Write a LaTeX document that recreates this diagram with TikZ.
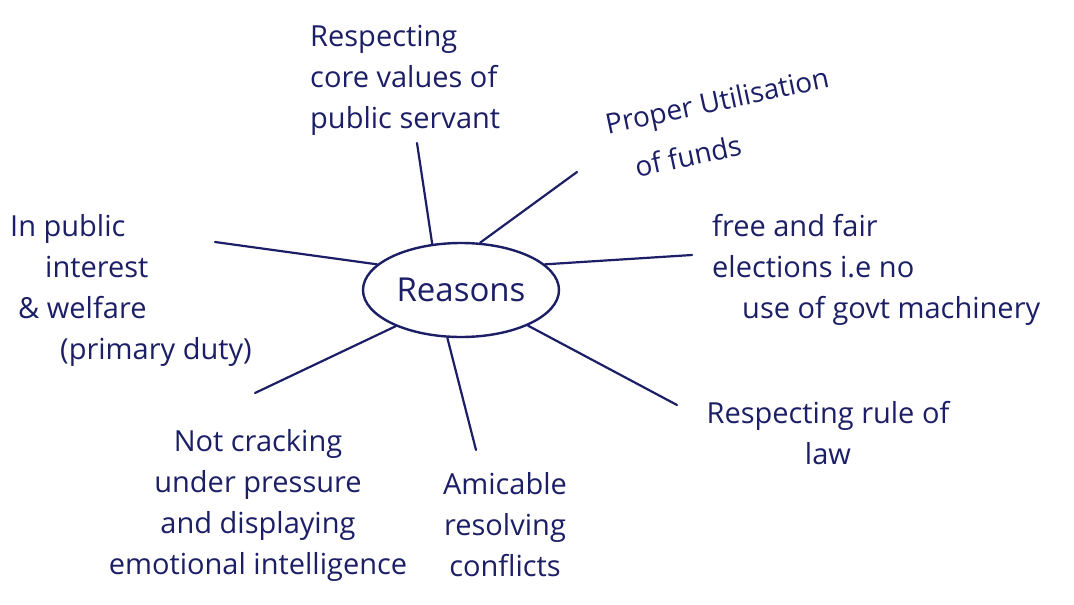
\documentclass[tikz,border=0pt]{standalone}
\usepackage{fontspec}
\setmainfont{Open Sans}
\usetikzlibrary{shapes.geometric}
\definecolor{ink}{HTML}{1C1F66}
\begin{document}
\begin{tikzpicture}[x=1pt,y=-1pt,
  lbl/.style={inner sep=0pt,text=ink,font=\fontsize{29}{41}\selectfont},
  link/.style={draw=ink,line width=2.2pt,line cap=round}]
\useasboundingbox (0,0) rectangle (1074,605);
\fill[white] (0,0) rectangle (1074,605);
\node[ellipse,draw=ink,line width=2.4pt,minimum width=196pt,minimum height=94pt,inner sep=0pt,text=ink,font=\fontsize{33}{36}\selectfont] (r) at (461,290) {Reasons};
\node[lbl,align=left,anchor=west] (t1) at (310,80) {Respecting\\core values of\\public servant};
\node[lbl,align=left,rotate=12,font=\fontsize{28}{48}\selectfont] (t2) at (722,124) {Proper Utilisation\\\hspace*{20pt}of funds};
\node[lbl,align=left,anchor=west] (t3) at (10,290) {In public\\\hspace*{35pt}interest\\\hspace*{8pt}\& welfare\\\hspace*{50pt}(primary duty)};
\node[lbl,align=left,anchor=west] (t4) at (712,270) {free and fair\\elections i.e no\\\hspace*{30pt}use of govt machinery};
\node[lbl,align=center] (t5) at (828,433) {Respecting rule of\\law};
\node[lbl,align=center] (t6) at (258,505) {Not cracking\\under pressure\\and displaying\\emotional intelligence};
\node[lbl,align=center] (t7) at (505,525) {Amicable\\resolving\\conflicts};
\coordinate (e1) at (417,143);
\coordinate (e2) at (577,172);
\coordinate (e3) at (215,242);
\coordinate (e4) at (692,255);
\coordinate (e5) at (677,405);
\coordinate (e6) at (476,450);
\coordinate (e7) at (255,393);
\draw[link] (r.122) -- (e1);
\draw[link] (r.68) -- (e2);
\draw[link] (r.163) -- (e3);
\draw[link] (r.17) -- (e4);
\draw[link] (r.-28) -- (e5);
\draw[link] (r.-106) -- (e6);
\draw[link] (r.209) -- (e7);
\end{tikzpicture}
\end{document}
